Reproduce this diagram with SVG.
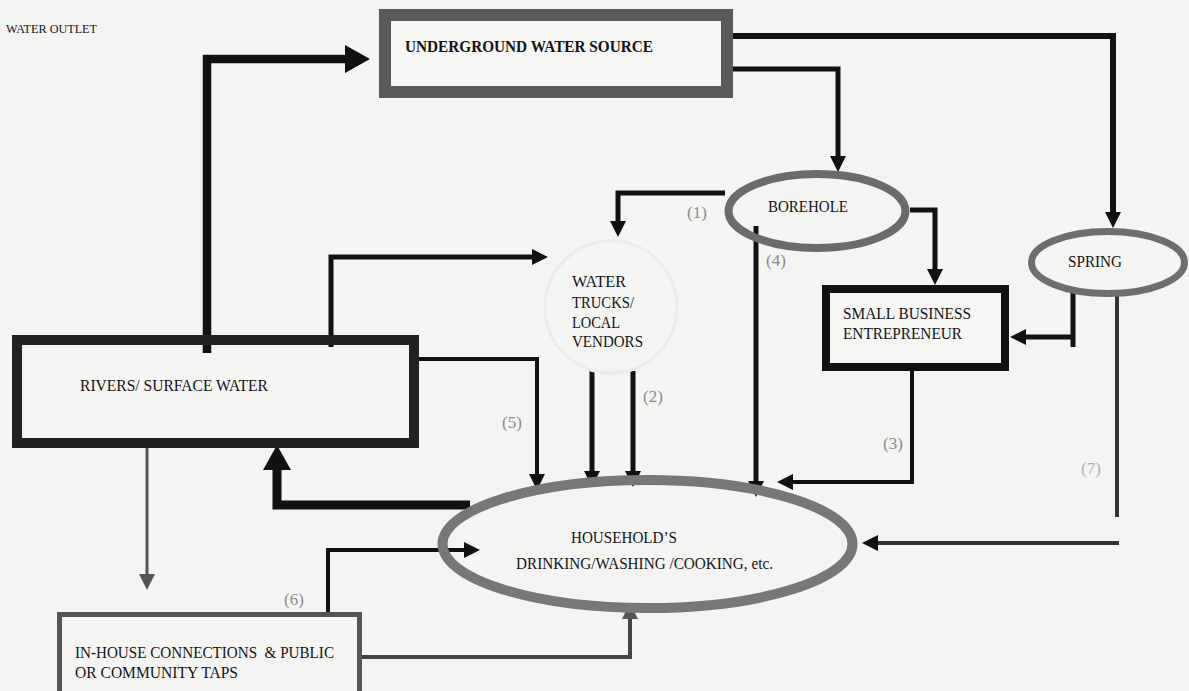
<svg xmlns="http://www.w3.org/2000/svg" width="1189" height="691" viewBox="0 0 1189 691">
<defs>
<style>
text{font-family:"Liberation Serif","Times New Roman",serif;font-size:16.5px;fill:#141414}
.b{font-weight:bold}
.num{font-size:17px;fill:#8c8c8c}
.num7{font-size:17px;fill:#b0b0b0}
.c{fill:none;stroke:#111;stroke-linejoin:miter}
.w4{stroke-width:4}
.w5{stroke-width:5}
.w6{stroke-width:6}
.thick{stroke-width:8.5}
</style>
<marker id="a" markerUnits="userSpaceOnUse" markerWidth="16" markerHeight="16" viewBox="0 0 16 16" refX="0" refY="8" orient="auto"><path d="M0,0 L16,8 L0,16z" fill="#111"/></marker>
<marker id="ag" markerUnits="userSpaceOnUse" markerWidth="16" markerHeight="16" viewBox="0 0 16 16" refX="0" refY="8" orient="auto"><path d="M0,0 L16,8 L0,16z" fill="#555"/></marker>
<marker id="ab" markerUnits="userSpaceOnUse" markerWidth="25" markerHeight="28" viewBox="0 0 25 28" refX="0" refY="14" orient="auto"><path d="M0,0 L25,14 L0,28z" fill="#111"/></marker>
</defs>
<rect width="1189" height="691" fill="#f4f4f2"/>
<text x="6" y="33" style="font-size:12.5px" textLength="91" lengthAdjust="spacingAndGlyphs">WATER OUTLET</text>

<g id="connectors">
<path class="c thick" d="M207,353 V59 H345" marker-end="url(#ab)"/>
<path class="c w5" d="M331,347 V257 H532" marker-end="url(#a)"/>
<path class="c w6" d="M733,36 H1113 V212" marker-end="url(#a)"/>
<path class="c w5" d="M733,69 H838 V156" marker-end="url(#a)"/>
<path class="c w5" d="M725,193 H618 V221" marker-end="url(#a)"/>
<path class="c w5" d="M756,226 V481" marker-end="url(#a)"/>
<path class="c w5" d="M910,210 H935 V269" marker-end="url(#a)"/>
<path class="c w5" d="M1073,287 V347 M1073,337 H1026" marker-end="url(#a)"/>
<path class="c w4" d="M1117,290 V517" style="stroke:#333"/>
<path class="c w4" d="M1119,543 H878" style="stroke:#333" marker-end="url(#a)"/>
<path class="c w4" d="M912,371 V482 H793" marker-end="url(#a)"/>
<path class="c w5" d="M592,371 V471" marker-end="url(#a)"/>
<path class="c w5" d="M633,371 V471" marker-end="url(#a)"/>
<path class="c w4" d="M419,359 H537 V474" marker-end="url(#a)"/>
<path class="c" style="stroke-width:9" d="M470,505 H277 V470" marker-end="url(#ab)"/>
<path class="c" style="stroke:#555;stroke-width:3" d="M147,448 V574" marker-end="url(#ag)"/>
<path class="c w4" d="M328,612 V550 H464" marker-end="url(#a)"/>
<path class="c w4" d="M362,657 H630 V619" style="stroke:#444" marker-end="url(#ag)"/>
</g>

<g id="underground">
<rect x="385" y="15" width="342" height="77" fill="#f6f6f4" stroke="#5a5a5a" stroke-width="12"/>
<text class="b" x="405" y="52" textLength="248" lengthAdjust="spacingAndGlyphs">UNDERGROUND WATER SOURCE</text>
</g>

<g id="borehole">
<ellipse cx="817" cy="211" rx="88.5" ry="37" fill="none" stroke="#6b6b6b" stroke-width="8"/>
<text x="768" y="212" textLength="80" lengthAdjust="spacingAndGlyphs">BOREHOLE</text>
</g>

<g id="spring">
<ellipse cx="1108" cy="262.5" rx="76.5" ry="31" fill="none" stroke="#6e6e6e" stroke-width="7"/>
<text x="1068" y="267" textLength="54" lengthAdjust="spacingAndGlyphs">SPRING</text>
</g>

<g id="small-business">
<rect x="826" y="289" width="179" height="78" fill="#f6f6f4" stroke="#111" stroke-width="8"/>
<text x="843" y="319" textLength="128" lengthAdjust="spacingAndGlyphs">SMALL BUSINESS</text>
<text x="843" y="339" textLength="119" lengthAdjust="spacingAndGlyphs">ENTREPRENEUR</text>
</g>

<g id="water-trucks">
<circle cx="611" cy="307" r="66" fill="none" stroke="#ebebe9" stroke-width="3"/>
<text x="572" y="287" textLength="54" lengthAdjust="spacingAndGlyphs">WATER</text>
<text x="572" y="308" textLength="62" lengthAdjust="spacingAndGlyphs">TRUCKS/</text>
<text x="572" y="328" textLength="48" lengthAdjust="spacingAndGlyphs">LOCAL</text>
<text x="572" y="347" textLength="71" lengthAdjust="spacingAndGlyphs">VENDORS</text>
</g>

<g id="rivers">
<rect x="17" y="340" width="397" height="103" fill="none" stroke="#222" stroke-width="10"/>
<text x="80" y="391" textLength="188" lengthAdjust="spacingAndGlyphs">RIVERS/ SURFACE WATER</text>
</g>

<g id="household">
<ellipse cx="647.5" cy="544" rx="205" ry="64" fill="none" stroke="#777" stroke-width="10"/>
<text x="571" y="543" textLength="106" lengthAdjust="spacingAndGlyphs">HOUSEHOLD’S</text>
<text x="516" y="569" textLength="257" lengthAdjust="spacingAndGlyphs">DRINKING/WASHING /COOKING, etc.</text>
</g>

<g id="in-house">
<rect x="59.5" y="614.5" width="300" height="90" fill="none" stroke="#555" stroke-width="5"/>
<text x="75" y="658" xml:space="preserve" textLength="259" lengthAdjust="spacingAndGlyphs">IN-HOUSE CONNECTIONS  &amp; PUBLIC</text>
<text x="75" y="678" textLength="163" lengthAdjust="spacingAndGlyphs">OR COMMUNITY TAPS</text>
</g>

<g id="labels">
<text class="num" x="687" y="218">(1)</text>
<text class="num" x="643" y="402">(2)</text>
<text class="num" x="883" y="449">(3)</text>
<text class="num" x="766" y="266">(4)</text>
<text class="num" x="502" y="428">(5)</text>
<text class="num" x="284" y="605">(6)</text>
<text class="num7" x="1081" y="474">(7)</text>
</g>
</svg>
